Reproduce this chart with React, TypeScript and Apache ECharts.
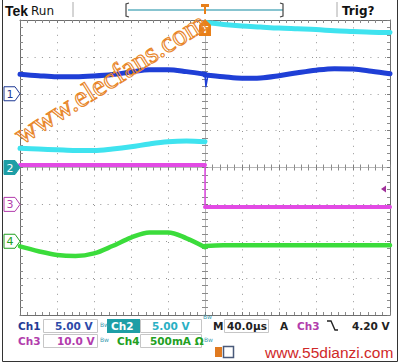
import React, { useEffect, useRef } from "react";
import * as echarts from "echarts";

// time axis in microseconds (40 µs/div, trigger at 0), vertical in screen divisions (centre = 0)
const preTimeUs = [-200, -180, -160, -140, -120, -100, -80, -60, -40, -20, 0];
const postTimeUs = [0, 20, 40, 60, 80, 100, 120, 140, 160, 180, 200];

const ch1Pre = [2.53, 2.49, 2.46, 2.46, 2.48, 2.52, 2.59, 2.65, 2.65, 2.6, 2.53];
const ch1Post = [2.51, 2.46, 2.42, 2.43, 2.49, 2.57, 2.64, 2.68, 2.67, 2.61, 2.54];
const ch1GlitchTime = [0, 1, 3];
const ch1Glitch = [2.52, 2.19, 2.49];

const ch2Pre = [0.52, 0.5, 0.48, 0.46, 0.46, 0.5, 0.56, 0.64, 0.7, 0.72, 0.7];
const ch2Post = [3.93, 3.88, 3.84, 3.81, 3.78, 3.76, 3.74, 3.71, 3.69, 3.67, 3.66];

const ch3Pre = [0.07, 0.07, 0.07, 0.07, 0.07, 0.07, 0.07, 0.07, 0.07, 0.07, 0.07];
const ch3Post = [-1.07, -1.07, -1.07, -1.07, -1.07, -1.07, -1.07, -1.07, -1.07, -1.07, -1.07];

const ch4Pre = [-2.14, -2.27, -2.37, -2.4, -2.33, -2.13, -1.9, -1.76, -1.76, -1.92, -2.16];
const ch4Post = [-2.13, -2.11, -2.11, -2.11, -2.11, -2.11, -2.11, -2.11, -2.11, -2.11, -2.11];

const channelGroundDiv = [2, 0, -1, -2];
const triggerLevelDiv = -0.58;

const BLUE = "#1f3fd6";
const CYAN = "#3fe3ef";
const MAG = "#e24ae4";
const GREEN = "#3bdc3b";
const NAVY = "#1f3a94";
const TEAL = "#1e9ea6";
const MAGT = "#b23cac";
const GRNT = "#22a022";
const ORANGE = "#e8801a";

function seg(color: string, times: number[], vals: number[], width: number, smooth: number | boolean, z = 2, opacity = 1) {
  return {
    type: "line",
    xAxisIndex: 0,
    yAxisIndex: 0,
    data: times.map((t, i) => [t, vals[i]]),
    showSymbol: false,
    symbol: "none",
    smooth,
    silent: true,
    z,
    lineStyle: { color, width, cap: "round", join: "round", opacity },
  };
}

function xAx(position: string, onZero: boolean, inside: boolean, split: boolean, lineColor: string) {
  return {
    type: "value",
    min: -200,
    max: 200,
    interval: 40,
    position,
    axisLine: { show: true, onZero, onZeroAxisIndex: 0, lineStyle: { color: lineColor, width: 1 } },
    axisTick: { show: true, inside, length: 3, lineStyle: { color: "#7a7a7a" } },
    minorTick: { show: true, splitNumber: 5, length: 3, lineStyle: { color: "#8a8a8a" } },
    axisLabel: { show: false },
    splitLine: { show: split, lineStyle: { color: "#959595", type: [1, 6.4], width: 1 } },
  };
}
function yAx(position: string, onZero: boolean, inside: boolean, split: boolean, lineColor: string) {
  return {
    type: "value",
    min: -4,
    max: 4,
    interval: 1,
    position,
    axisLine: { show: true, onZero, onZeroAxisIndex: 0, lineStyle: { color: lineColor, width: 1 } },
    axisTick: { show: true, inside, length: 3, lineStyle: { color: "#7a7a7a" } },
    minorTick: { show: true, splitNumber: 5, length: 3, lineStyle: { color: "#8a8a8a" } },
    axisLabel: { show: false },
    splitLine: { show: split, lineStyle: { color: "#959595", type: [1, 6.3], width: 1 } },
  };
}

function txt(text: string, x: number, y: number, fill: string, font: string, align = "left", extra: any = {}) {
  return {
    type: "text",
    z: 100,
    silent: true,
    style: { text, x, y, fill, font, textAlign: align, align, textVerticalAlign: "middle", verticalAlign: "middle", ...extra },
  };
}
function rect(x: number, y: number, w: number, h: number, style: any) {
  return { type: "rect", z: 99, silent: true, shape: { x, y, width: w, height: h }, style };
}
function pline(points: number[][], stroke: string, lineWidth = 1) {
  return { type: "polyline", z: 100, silent: true, shape: { points }, style: { stroke, lineWidth, fill: "none" } };
}

export default function App() {
  const ref = useRef<HTMLDivElement>(null);
  useEffect(() => {
    if (!ref.current) return;
    const chart = echarts.init(ref.current, undefined, { renderer: "svg" });
    const option: any = {
      animation: false,
      backgroundColor: "#ffffff",
      grid: { left: 20, top: 20, width: 370, height: 295, show: false },
      xAxis: [
        xAx("bottom", false, true, true, "#6e6e6e"),
        xAx("top", false, true, false, "#6e6e6e"),
        xAx("bottom", true, false, false, "#b8b8b8"),
        xAx("bottom", true, true, false, "#b8b8b8"),
      ],
      yAxis: [
        yAx("left", false, true, true, "#6e6e6e"),
        yAx("right", false, true, false, "#6e6e6e"),
        yAx("left", true, false, false, "#b8b8b8"),
        yAx("left", true, true, false, "#b8b8b8"),
      ],
      series: [
        seg(GREEN, preTimeUs, ch4Pre, 4.5, 0.35, 2),
        seg(GREEN, postTimeUs, ch4Post, 4.5, 0.35, 2),
        seg(GREEN, [0, 0], [ch4Pre[10], ch4Post[0]], 3, false, 2),
        seg(MAG, preTimeUs, ch3Pre, 4, false, 3),
        seg(MAG, postTimeUs, ch3Post, 4, false, 3),
        seg(MAG, [0, 0], [ch3Pre[10], ch3Post[0]], 1.5, false, 3),
        seg(CYAN, preTimeUs, ch2Pre, 5, 0.35, 4),
        seg(CYAN, postTimeUs, ch2Post, 5, 0.35, 4),
        seg(BLUE, preTimeUs, ch1Pre, 5, 0.35, 5),
        seg(BLUE, postTimeUs, ch1Post, 5, 0.35, 5),
        seg(BLUE, ch1GlitchTime, ch1Glitch, 1.5, false, 5),
      ],
    };
    chart.setOption(option);

    const p = (x: number, y: number) => chart.convertToPixel({ xAxisIndex: 0, yAxisIndex: 0 }, [x, y]) as number[];

    const g: any[] = [];
    // outer frame
    g.push({ type: "rect", z: 98, silent: true, shape: { x: 2.5, y: -0.5, width: 395, height: 362 }, style: { fill: "none", stroke: "#333", lineWidth: 1 } });

    // top bar
    g.push(txt("Tek", 5, 10.5, "#111", "bold 14px 'Liberation Sans'"));
    g.push(txt("Run", 31, 10.5, "#111", "12px 'DejaVu Sans'"));
    g.push(pline([[73, 2], [73, 17]], "#aaaaaa"));
    g.push(pline([[129, 3], [126, 4], [126, 16], [129, 17]], "#444", 1.2));
    g.push(pline([[128, 10], [283, 10]], "#5fb0c0", 1.5));
    g.push(pline([[280, 3], [283, 4], [283, 16], [280, 17]], "#444", 1.2));
    g.push(pline([[337, 2], [337, 17]], "#aaaaaa"));
    g.push(txt("Trig?", 342, 10.5, "#111", "bold 12px 'DejaVu Sans'"));

    // trigger position markers
    const t0 = p(0, 4);
    g.push({
      type: "polygon", z: 100, silent: true,
      shape: { points: [[t0[0] - 4, 4], [t0[0] + 4, 4], [t0[0] + 4, 7], [t0[0] + 1, 7], [t0[0] + 1, 14], [t0[0] - 1, 14], [t0[0] - 1, 7], [t0[0] - 4, 7]] },
      style: { fill: ORANGE },
    });
    g.push({
      type: "polygon", z: 100, silent: true,
      shape: { points: [[t0[0] - 6, t0[1] + 16], [t0[0] - 6, t0[1] + 5], [t0[0], t0[1] - 1], [t0[0] + 6, t0[1] + 5], [t0[0] + 6, t0[1] + 16]] },
      style: { fill: ORANGE },
    });
    g.push(txt("T", t0[0], t0[1] + 10, "#fff", "bold 9px 'DejaVu Sans'", "center"));

    // channel ground markers
    const markerStyles = [
      { fill: "#fff", stroke: NAVY, text: NAVY },
      { fill: TEAL, stroke: TEAL, text: "#fff" },
      { fill: "#fff", stroke: MAGT, text: MAGT },
      { fill: "#fff", stroke: GRNT, text: GRNT },
    ];
    channelGroundDiv.forEach((lvl, i) => {
      const q = p(-200, lvl);
      const x = q[0], y = q[1];
      const s = markerStyles[i];
      g.push({
        type: "polygon", z: 100, silent: true,
        shape: { points: [[x - 16, y - 7], [x - 5, y - 7], [x, y], [x - 5, y + 7], [x - 16, y + 7]] },
        style: { fill: s.fill, stroke: s.stroke, lineWidth: 1 },
      });
      g.push(txt(String(i + 1), x - 10, y + 0.5, s.text, "11px 'DejaVu Sans'", "center"));
    });

    // trigger level marker
    const tl = p(200, triggerLevelDiv);
    g.push({
      type: "polygon", z: 100, silent: true,
      shape: { points: [[tl[0] - 9, tl[1]], [tl[0] - 4, tl[1] - 3.5], [tl[0] - 4, tl[1] + 3.5]] },
      style: { fill: "#a0309a" },
    });

    // watermark
    g.push({
      type: "text", z: 101, silent: true, x: 110, y: 78, rotation: 0.56,
      style: {
        text: "www.elecfans.com", x: 0, y: 0, fill: "rgba(255,255,255,0)", stroke: "#e8862a", lineWidth: 1.1,
        font: "29px 'Liberation Serif'", textAlign: "center", align: "center", textVerticalAlign: "middle", verticalAlign: "middle",
      },
    });

    // bottom readouts
    const boxStyle = { fill: "none", stroke: "#c6c6c6", lineWidth: 1 };
    g.push(rect(43.5, 319.5, 54, 13, boxStyle));
    g.push(rect(43.5, 334.5, 54, 13, boxStyle));
    g.push(rect(140.5, 319.5, 61, 13, boxStyle));
    g.push(rect(140.5, 334.5, 61, 13, boxStyle));
    g.push(rect(224.5, 319.5, 44, 13, boxStyle));
    g.push(rect(107, 319, 33, 14, { fill: TEAL }));
    const F = "bold 10.5px 'DejaVu Sans'";
    const FS = "6px 'DejaVu Sans'";
    g.push(txt("Ch1", 18, 326, NAVY, F));
    g.push(txt("5.00 V", 55, 326, "#2c4aa8", F));
    g.push(txt("Bw", 100, 324, "#3a9ab0", FS));
    g.push(txt("Ch2", 111, 326, "#ffffff", F));
    g.push(txt("5.00 V", 152, 326, "#2ab0c4", F));
    g.push(txt("Bw", 203, 316, "#3a9ab0", FS));
    g.push(txt("M", 213, 326, "#222", F));
    g.push(txt("40.0µs", 227, 326, "#222", F));
    g.push(txt("A", 280, 326, "#222", F));
    g.push(txt("Ch3", 297, 326, MAGT, F));
    g.push(pline([[327, 321], [331, 321], [335, 330], [338, 330]], "#222", 1.4));
    g.push(txt("4.20 V", 352, 326, "#222", F));
    g.push(txt("Ch3", 18, 341, MAGT, F));
    g.push(txt("10.0 V", 57, 341, MAGT, F));
    g.push(txt("Bw", 100, 339, "#3a9ab0", FS));
    g.push(txt("Ch4", 117, 341, GRNT, F));
    g.push(txt("500mA Ω", 150, 341, GRNT, F));
    g.push(txt("Bw", 204, 339, "#3a9ab0", FS));

    // bottom logo + url
    g.push(rect(215, 347, 7, 10, { fill: "#e07a20" }));
    g.push(rect(223.5, 346.5, 10, 11, { fill: "none", stroke: "#4a5a7a", lineWidth: 1.5 }));
    g.push(txt("www.55dianzi.com", 265, 352.5, "#d02828", "15.5px 'Liberation Sans'"));

    chart.setOption({ graphic: g });
    return () => chart.dispose();
  }, []);
  return <div ref={ref} style={{ position: "fixed", left: 0, top: 0, width: 400, height: 364 }} />;
}
